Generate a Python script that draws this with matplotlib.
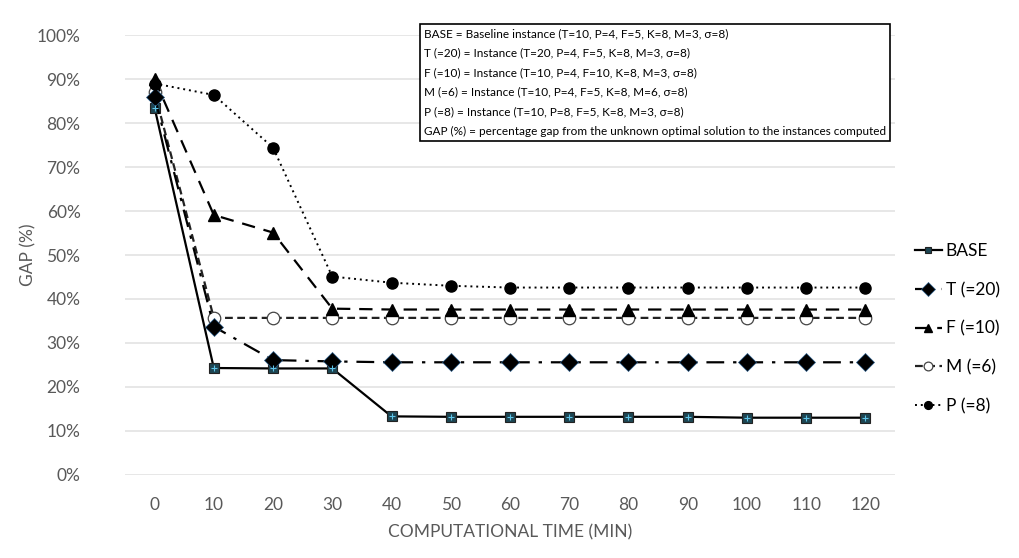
import matplotlib
matplotlib.use("Agg")
import matplotlib.pyplot as plt
from matplotlib.ticker import PercentFormatter

# data (GAP in %)
times = [0, 10, 20, 30, 40, 50, 60, 70, 80, 90, 100, 110, 120]
gap_base = [83.5, 24.3, 24.2, 24.2, 13.3, 13.2, 13.2, 13.2, 13.2, 13.2, 13.0, 13.0, 13.0]
gap_t20 = [86.0, 33.7, 26.1, 25.8, 25.6, 25.6, 25.6, 25.6, 25.6, 25.6, 25.6, 25.6, 25.6]
gap_f10 = [90.0, 59.1, 55.1, 37.8, 37.6, 37.6, 37.6, 37.6, 37.6, 37.6, 37.6, 37.6, 37.6]
gap_m6 = [87.0, 35.7, 35.7, 35.7, 35.7, 35.7, 35.7, 35.7, 35.7, 35.7, 35.7, 35.7, 35.7]
gap_p8 = [89.0, 86.4, 74.4, 45.1, 43.7, 43.0, 42.6, 42.6, 42.6, 42.6, 42.6, 42.6, 42.6]

info_lines = [
    "BASE = Baseline instance (T=10, P=4, F=5, K=8, M=3, \u03c3=8)",
    "T (=20) = Instance (T=20, P=4, F=5, K=8, M=3, \u03c3=8)",
    "F (=10) = Instance (T=10, P=4, F=10, K=8, M=3, \u03c3=8)",
    "M (=6) = Instance (T=10, P=4, F=5, K=8, M=6, \u03c3=8)",
    "P (=8) = Instance (T=10, P=8, F=5, K=8, M=3, \u03c3=8)",
    "GAP (%) = percentage gap from the unknown optimal solution to the instances computed",
]

plt.rcParams['font.family'] = ['Lato', 'DejaVu Sans']

fig = plt.figure(figsize=(10.2, 5.58), dpi=100)
ax = fig.add_axes([0.1225, 0.149, 0.755, 0.788])

x = list(range(len(times)))

ax.plot(x, gap_base, color='black', lw=1.6, ls='-', marker='s', ms=7,
        mfc='#1d4552', mec='#222222', mew=0.8, label='BASE', zorder=3)
ax.plot(x, gap_base, ls='none', marker='+', ms=5, mec='#5fc4e8', mew=0.8, zorder=4)
ax.plot(x, gap_t20, color='black', lw=1.6, ls=(0, (8, 4, 1.5, 4)), marker='D', ms=9.5,
        mfc='black', mec='#2a5d8a', mew=0.5, label='T (=20)', zorder=3)
ax.plot(x, gap_f10, color='black', lw=1.6, ls=(0, (6, 4)), marker='^', ms=9,
        mfc='black', mec='black', label='F (=10)', zorder=3)
ax.plot(x, gap_m6, color='#222222', lw=1.6, ls=(0, (3.5, 2)), marker='o', ms=9,
        mfc='white', mec='#444444', mew=0.9, label='M (=6)', zorder=2)
ax.plot(x, gap_p8, color='black', lw=1.4, ls=(0, (1, 2)), marker='o', ms=8,
        mfc='black', mec='black', label='P (=8)', zorder=3)

ax.set_xlim(-0.5, len(times) - 0.5)
ax.set_ylim(0, 100)
ax.set_yticks(range(0, 101, 10))
ax.yaxis.set_major_formatter(PercentFormatter(decimals=0))
ax.set_xticks(x)
ax.set_xticklabels([str(t) for t in times])
ax.grid(axis='y', color='#e3e3e3', lw=1.2)
ax.set_axisbelow(True)
for s in ax.spines.values():
    s.set_visible(False)
ax.tick_params(length=0, labelsize=12.5, colors='#595959')
ax.tick_params(axis='y', pad=32)
ax.tick_params(axis='x', pad=16)

ax.set_xlabel('COMPUTATIONAL TIME (MIN)', fontsize=12.5, color='#595959', labelpad=8)
ax.set_ylabel('GAP (%)', fontsize=12.5, color='#595959', labelpad=0)

ax.legend(loc='upper left', bbox_to_anchor=(1.005, 0.562), frameon=False,
          fontsize=12.5, handlelength=1.6, handletextpad=0.2, labelspacing=1.3,
          markerscale=0.7)

ax.text(0.388, 1.016, "\n".join(info_lines), transform=ax.transAxes,
        fontsize=8.45, va='top', ha='left', linespacing=1.95,
        bbox=dict(boxstyle='square,pad=0.35', fc='white', ec='black', lw=1.2))

plt.savefig('out.png', dpi=100)
plt.close()
